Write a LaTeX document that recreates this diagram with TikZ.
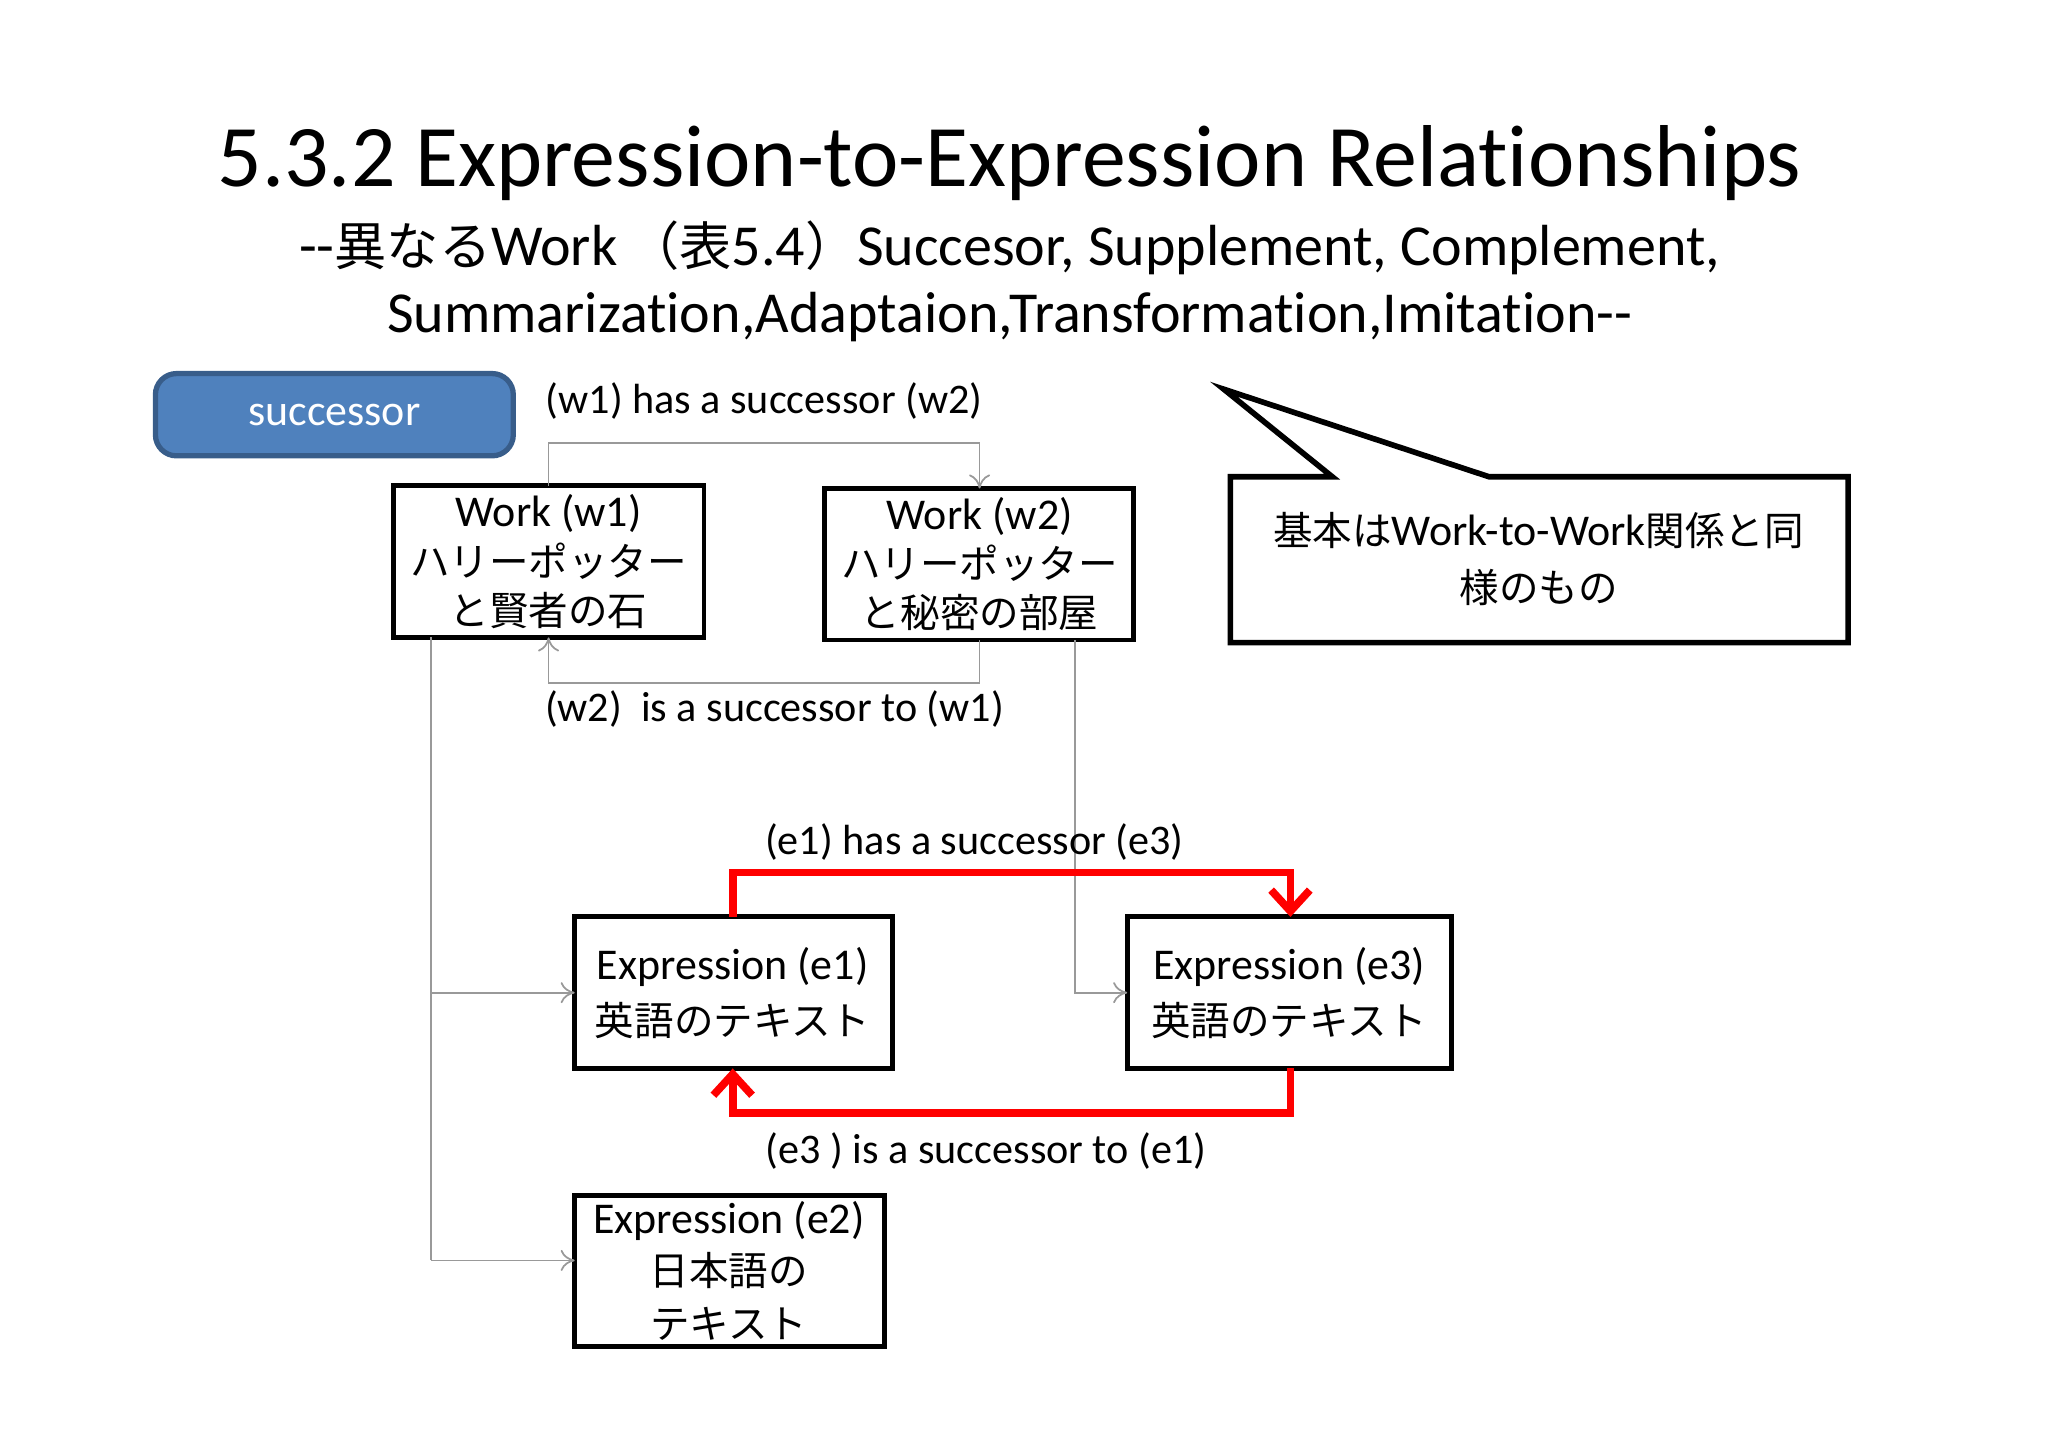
\documentclass[tikz,border=0pt]{standalone}
\usepackage{fontspec}
\setmainfont[Ligatures=NoCommon]{Carlito}
\newfontfamily\jp[Scale=0.9]{Noto Sans CJK JP}
\usetikzlibrary{arrows.meta}
\tikzset{
 box/.style={align=center,inner sep=0pt,font=\fontsize{12.5}{14}\selectfont},
 glink/.style={draw=gray!80,line width=0.5pt,-{To[length=4pt,width=6pt]}},
 rlink/.style={draw=red,line width=2.2pt,-{Straight Barb[length=6pt,width=11pt]}},
 lab/.style={font=\fontsize{12}{14}\selectfont}
}
\begin{document}
\begin{tikzpicture}[x=0.01306cm,y=-0.01306cm]
\useasboundingbox (0,0) rectangle (1568,1108.6);
\node (title) at (773,125) {\fontsize{25}{30}\selectfont 5.3.2 Expression-to-Expression Relationships};
\node (sub1) at (773,190) {\fontsize{16.5}{20}\selectfont {-}{-}{\jp 異なる}Work\,{\jp （表}5.4{\jp ）}Succesor, Supplement, Complement,};
\node (sub2) at (773,243) {\fontsize{16.5}{20}\selectfont Summarization,Adaptaion,Transformation,Imitation{-}{-}};
\path[draw={rgb,255:red,56;green,93;blue,138},fill={rgb,255:red,79;green,129;blue,189},line width=1.5pt,rounded corners=6pt] (119,286) rectangle (393,349);
\node[text=white,font=\fontsize{12.5}{14}\selectfont] (succt) at (256,318) {successor};
\node[lab] (l1) at (585,307) {(w1) has a successor (w2)};
\draw[line width=1.4pt] (301,372) rectangle (539,488);
\node[box] (w1t) at (420,430) {Work (w1)\\{\jp ハリーポッター}\\{\jp と賢者の石}};
\draw[line width=1.4pt] (631,374) rectangle (868,490);
\node[box] (w2t) at (750,432) {Work (w2)\\{\jp ハリーポッター}\\{\jp と秘密の部屋}};
\coordinate (w1top) at (420,372); \coordinate (w2top) at (750,374);
\coordinate (w1bot) at (420,488); \coordinate (w2bot) at (750,490);
\draw[glink] (w1top) |- (585,339) -| (w2top);
\draw[glink] (w2bot) |- (585,523) -| (w1bot);
\node[lab] (l2) at (593,543) {(w2)\ \ is a successor to (w1)};
\draw[line width=1.6pt] (942,365) -- (1020,365) -- (937,298) -- (1140,365) -- (1415,365) -- (1415,492) -- (942,492) -- cycle;
\node[align=center,font=\fontsize{12.5}{16}\selectfont] (call) at (1178,428) {{\jp 基本は}Work-to-Work{\jp 関係と同}\\{\jp 様のもの}};
\draw[line width=1.4pt] (440,702) rectangle (683,818);
\draw[line width=1.4pt] (863,702) rectangle (1111,818);
\draw[line width=1.4pt] (440,915) rectangle (677,1031);
\node[box,font=\fontsize{12.5}{16}\selectfont] (e1) at (561,760) {Expression (e1)\\{\jp 英語のテキスト}};
\node[box,font=\fontsize{12.5}{16}\selectfont] (e3) at (987,760) {Expression (e3)\\{\jp 英語のテキスト}};
\node[box,font=\fontsize{12.5}{15}\selectfont] (e2) at (558,973) {Expression (e2)\\{\jp 日本語の}\\{\jp テキスト}};
\coordinate (a) at (330,488); \coordinate (b) at (330,760); \coordinate (c) at (330,965);
\coordinate (e1l) at (440,760); \coordinate (e2l) at (440,965); \coordinate (e3l) at (863,760);
\draw[draw=gray!80,line width=0.5pt] (a) -- (c);
\draw[glink] (b) -- (e1l);
\draw[glink] (c) -- (e2l);
\draw[glink] (823,490) |- (e3l);
\draw[rlink] (561,702) |- (774,668) -| (988,702);
\draw[rlink] (988,818) |- (774,852) -| (561,818);
\node[lab] (l3) at (746,645) {(e1) has a successor (e3)};
\node[lab] (l4) at (755,881) {(e3 ) is a successor to (e1)};
\end{tikzpicture}
\end{document}
